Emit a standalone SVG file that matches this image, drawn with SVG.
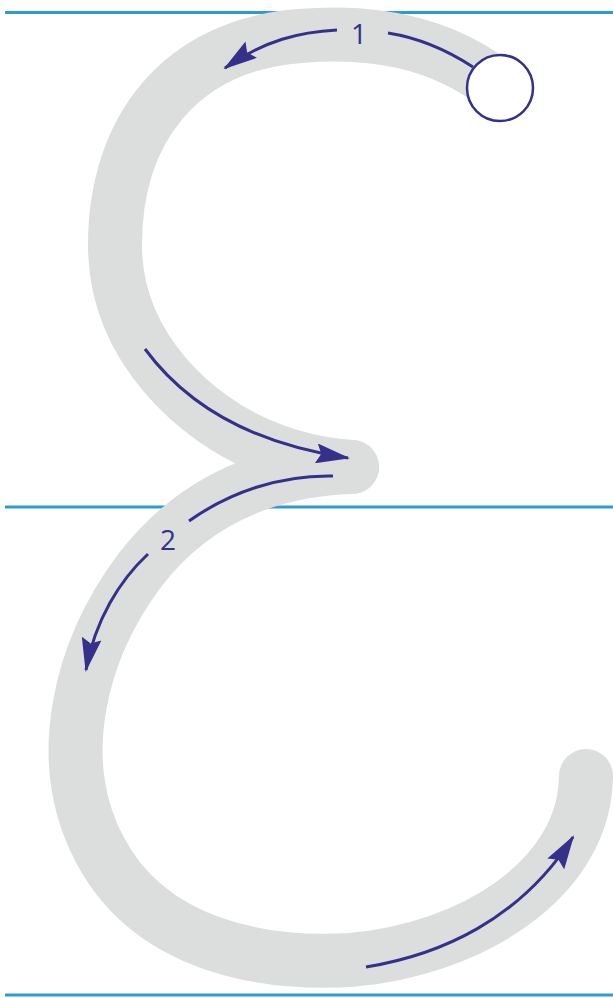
<svg xmlns="http://www.w3.org/2000/svg" width="613" height="998" viewBox="0 0 613 998">
<style>
.rule{stroke:#2e9bd0;stroke-width:3;fill:none}
.guide{stroke:#dcdddd;stroke-width:54;fill:none;stroke-linecap:round}
.arr{stroke:#35318a;stroke-width:3;fill:none}
.lbl{font-family:"Open Sans","Liberation Sans",sans-serif;font-size:28px;fill:#35318a;text-anchor:middle}
</style>
<defs>
<marker id="ah" viewBox="0 0 34 20" refX="32" refY="10" markerWidth="34" markerHeight="20" markerUnits="userSpaceOnUse" orient="auto">
<path d="M0,0 L34,10 L0,20 L5,10 Z" fill="#35318a"/>
</marker>
</defs>
<g id="rules">
<line class="rule" x1="5" y1="12.5" x2="613" y2="12.5"/>
<line class="rule" x1="5" y1="507" x2="613" y2="507"/>
<line class="rule" x1="5" y1="995" x2="613" y2="995"/>
</g>
<g id="letter">
<path class="guide" d="M500,88 C440,40 370,30 300,36 C180,45 115,130 115,245 C115,350 200,420 260,445 C290,458 320,465 352,467"/>
<path class="guide" d="M352,467 C260,470 190,505 140,570 C80,650 52,760 100,850 C150,945 260,965 350,960 C470,950 585,880 586,776"/>
</g>
<g id="start">
<circle cx="500" cy="88" r="33" fill="#fff" stroke="#35318a" stroke-width="2.5"/>
</g>
<g id="connectors">
<path class="arr" d="M473,67 C450,52 420,38 388,33"/>
<path class="arr" d="M337,30 C300,32 265,40 225,68" marker-end="url(#ah)"/>
<path class="arr" d="M145,349 C190,410 260,445 348,458" marker-end="url(#ah)"/>
<path class="arr" d="M333,476 C280,475 230,492 189,521"/>
<path class="arr" d="M148,554 C120,580 95,620 86,670" marker-end="url(#ah)"/>
<path class="arr" d="M366,967 C440,955 520,920 573,837" marker-end="url(#ah)"/>
</g>
<g id="labels">
<text class="lbl" x="359" y="44">1</text>
<text class="lbl" x="168" y="550">2</text>
</g>
</svg>
